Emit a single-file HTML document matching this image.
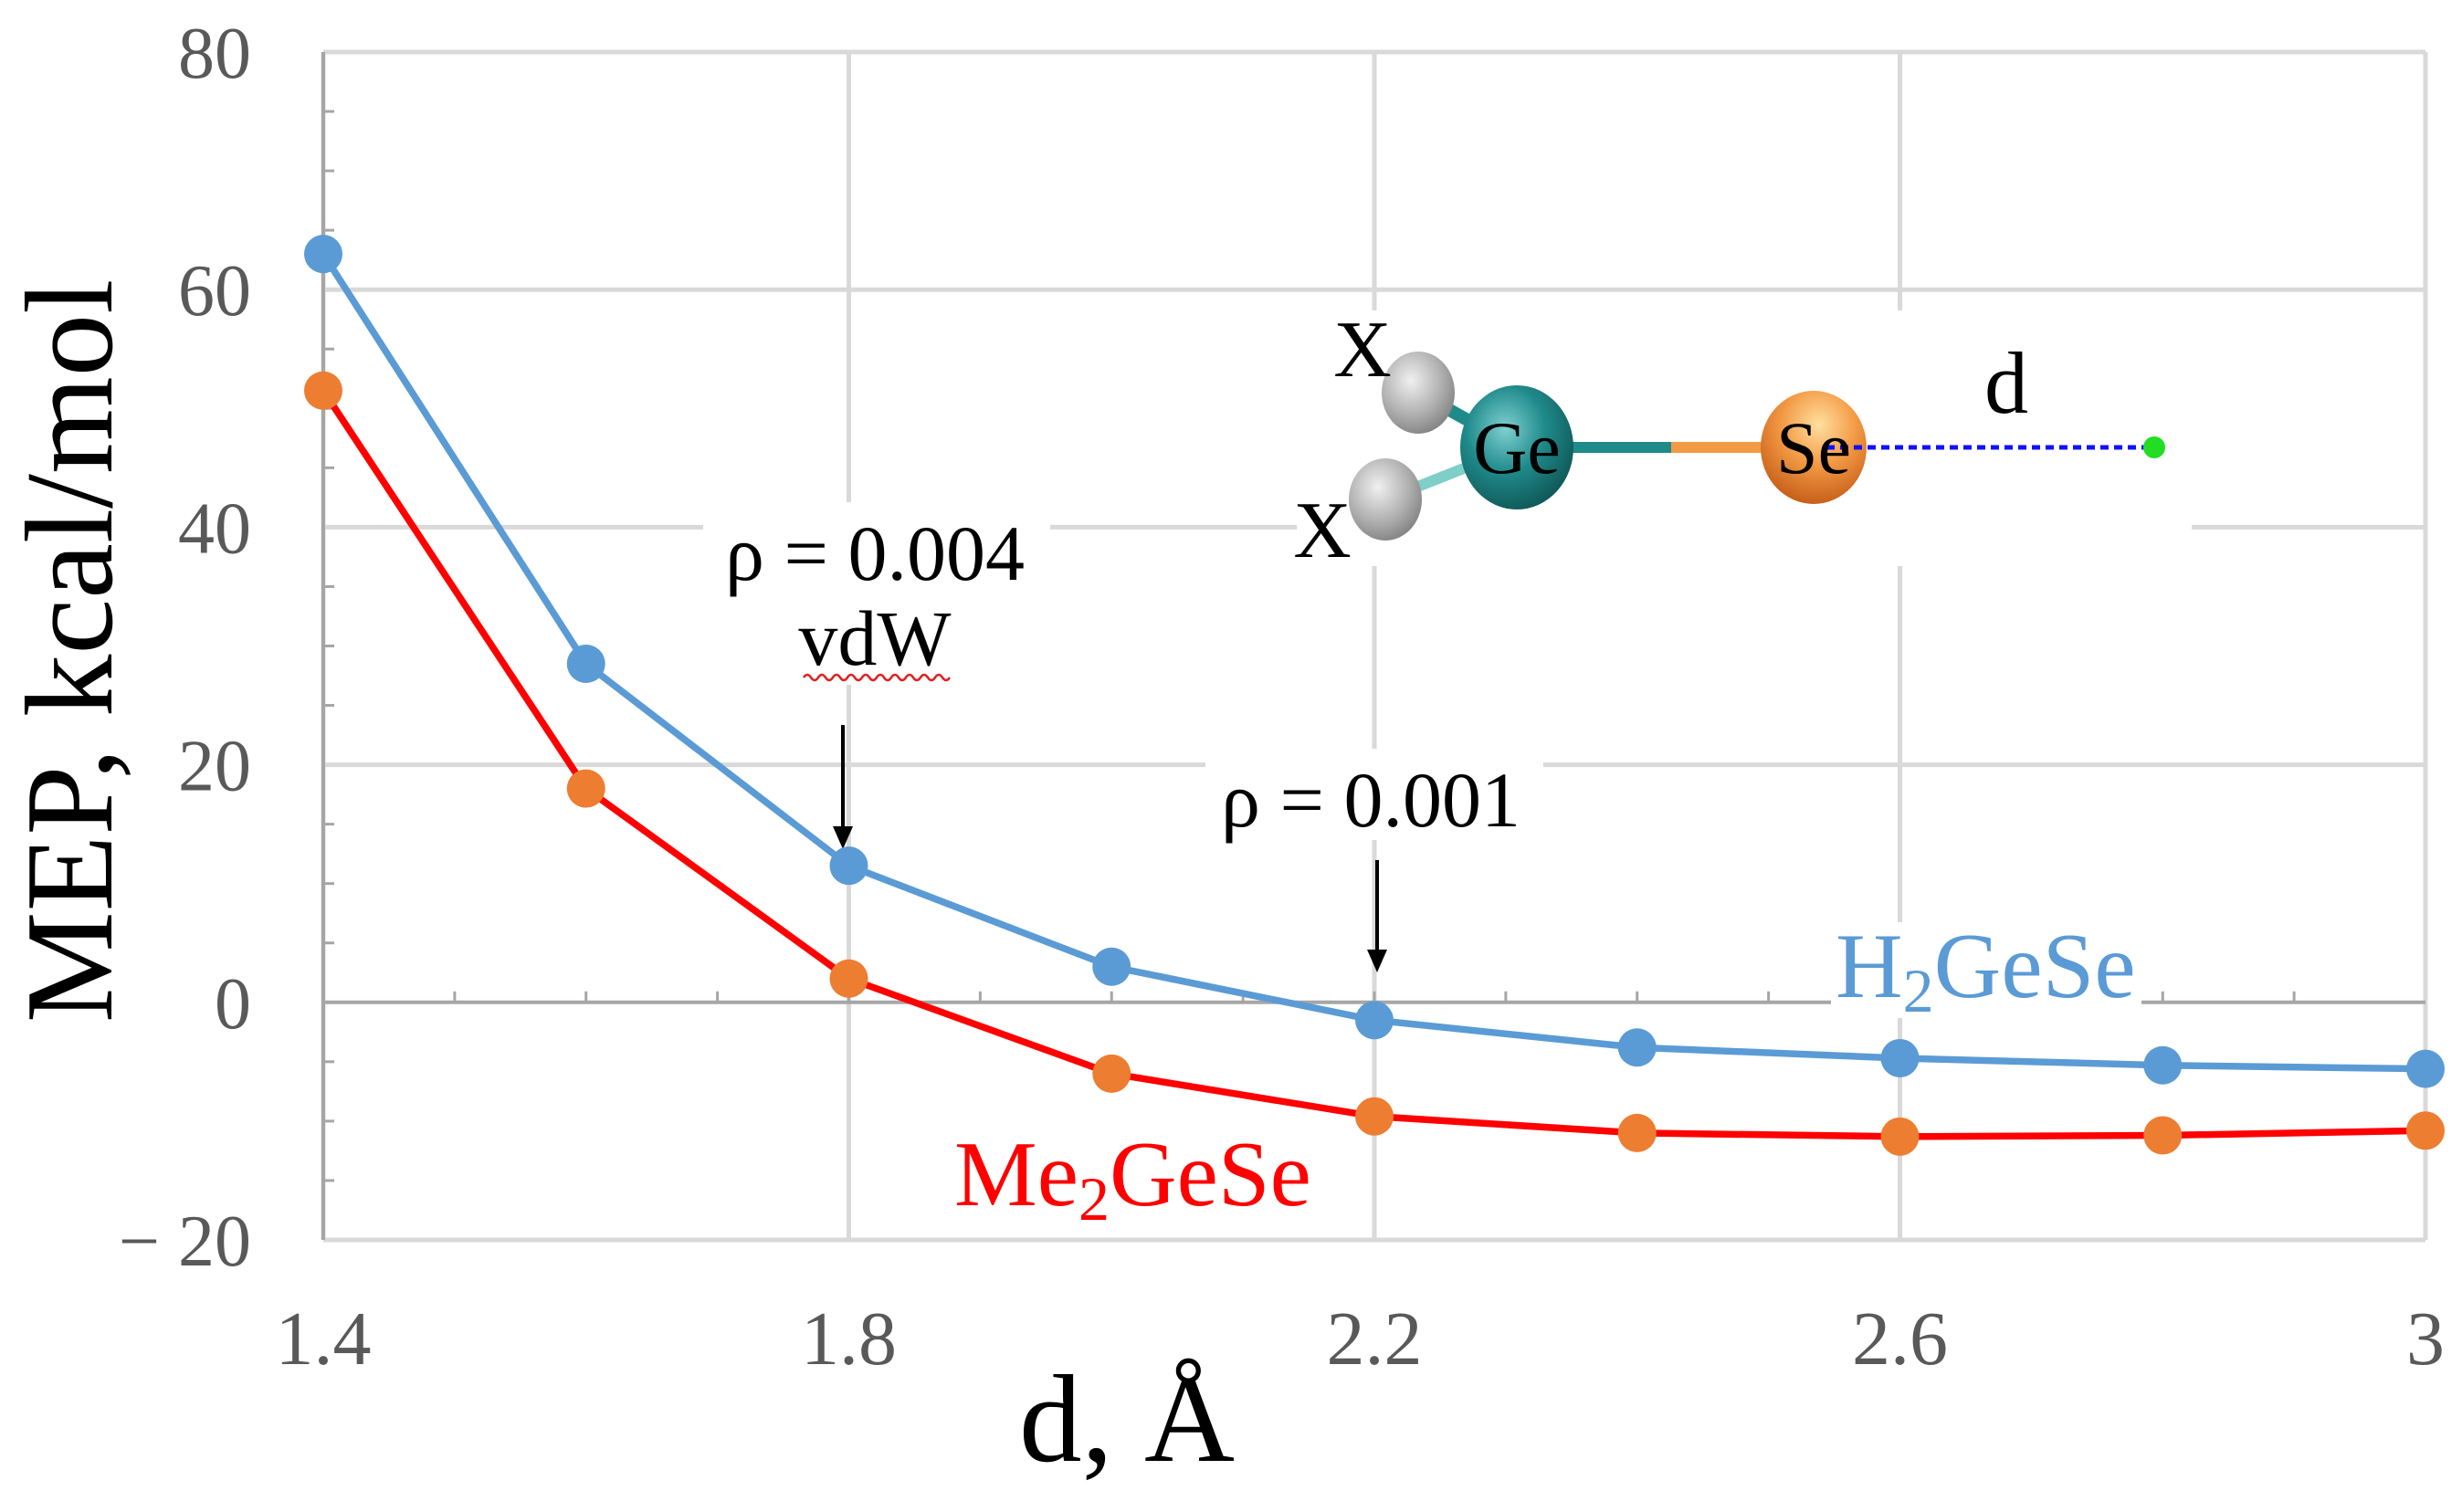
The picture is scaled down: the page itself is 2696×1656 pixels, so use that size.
<!DOCTYPE html>
<html><head><meta charset="utf-8"><style>
html,body{margin:0;padding:0;background:#fff;width:2696px;height:1656px;overflow:hidden}
svg{display:block;font-family:"Liberation Serif",serif}
</style></head><body>
<svg id="chart" width="2696" height="1656" viewBox="0 0 2696 1656" xmlns="http://www.w3.org/2000/svg">
<defs>
<radialGradient id="gGe" cx="0.4" cy="0.35" r="0.7"><stop offset="0" stop-color="#7fd0d0"/><stop offset="0.5" stop-color="#1f8a8a"/><stop offset="1" stop-color="#0f5555"/></radialGradient>
<radialGradient id="gSe" cx="0.55" cy="0.3" r="0.7"><stop offset="0" stop-color="#ffe0a0"/><stop offset="0.5" stop-color="#f39a45"/><stop offset="1" stop-color="#c8601a"/></radialGradient>
<radialGradient id="gX" cx="0.4" cy="0.35" r="0.7"><stop offset="0" stop-color="#f0f0f0"/><stop offset="0.6" stop-color="#b0b0b0"/><stop offset="1" stop-color="#808080"/></radialGradient>
</defs>
<g id="grid"></g>
<g id="axes"></g>
<g id="annotations" font-family="Liberation Serif, serif">
<rect x="770" y="550" width="380" height="200" fill="#fff"/>
<text x="958" y="635" text-anchor="middle" font-size="86">ρ = 0.004</text>
<text x="958" y="728" text-anchor="middle" font-size="86">vdW</text>
<path d="M880 742 q4 -6 8 0 t8 0 t8 0 t8 0 t8 0 t8 0 t8 0 t8 0 t8 0 t8 0 t8 0 t8 0 t8 0 t8 0 t8 0 t8 0 t8 0 t8 0 t8 0 t8 0" stroke="#e02020" stroke-width="2.5" fill="none"/>
<line x1="923" y1="794" x2="923" y2="910" stroke="#000" stroke-width="4"/>
<polygon points="912,905 934,905 923,930" fill="#000"/>
<rect x="1320" y="820" width="370" height="100" fill="#fff"/>
<text x="1501" y="905" text-anchor="middle" font-size="86">ρ = 0.001</text>
<line x1="1508" y1="942" x2="1508" y2="1045" stroke="#000" stroke-width="4"/>
<polygon points="1497,1040 1519,1040 1508,1065" fill="#000"/>
<rect x="2005" y="1010" width="340" height="105" fill="#fff"/>
<text x="2010" y="1092" font-size="102" fill="#5b9bd5">H<tspan font-size="68" dy="16">2</tspan><tspan dy="-16">GeSe</tspan></text>
<rect x="1040" y="1240" width="400" height="105" fill="#fff"/>
<text x="1045" y="1320" font-size="102" fill="#ff0000">Me<tspan font-size="68" dy="16">2</tspan><tspan dy="-16">GeSe</tspan></text>
<g>
<rect x="1420" y="340" width="980" height="280" fill="#fff"/>
<line x1="1553" y1="430" x2="1661" y2="490" stroke="#1f8a8a" stroke-width="14"/>
<line x1="1517" y1="547" x2="1661" y2="490" stroke="#7fcfc8" stroke-width="12"/>
<ellipse cx="1553" cy="430" rx="40" ry="45" fill="url(#gX)"/>
<ellipse cx="1517" cy="547" rx="40" ry="45" fill="url(#gX)"/>
<line x1="1661" y1="490" x2="1830" y2="490" stroke="#1f8a8a" stroke-width="12"/>
<line x1="1830" y1="490" x2="1986" y2="490" stroke="#f39a45" stroke-width="12"/>
<ellipse cx="1661" cy="490" rx="62" ry="68" fill="url(#gGe)"/>
<ellipse cx="1986" cy="490" rx="58" ry="62" fill="url(#gSe)"/>
<line x1="2000" y1="490" x2="2359" y2="490" stroke="#1010ff" stroke-width="5" stroke-dasharray="9,6"/>
<circle cx="2359" cy="490" r="12" fill="#22dd22"/>
<text x="1661" y="518" text-anchor="middle" font-size="82">Ge</text>
<text x="1986" y="518" text-anchor="middle" font-size="82">Se</text>
<text x="1492" y="412" text-anchor="middle" font-size="88">X</text>
<text x="1448" y="610" text-anchor="middle" font-size="88">X</text>
<text x="2197" y="452" text-anchor="middle" font-size="96">d</text>
</g>
</g>
<g id="series"></g>
</svg>
<script>
const xCats = [1.4, 1.6, 1.8, 2.0, 2.2, 2.4, 2.6, 2.8, 3.0];
const h2gese = [63, 28.5, 11.5, 3, -1.5, -3.8, -4.7, -5.3, -5.6];
const me2gese = [51.5, 18, 2, -6, -9.6, -11, -11.3, -11.2, -10.8];
const xTicks = [1.4, 1.8, 2.2, 2.6, 3];
const xTickLabels = ["1.4", "1.8", "2.2", "2.6", "3"];
const yTicks = [80, 60, 40, 20, 0, -20];
const yTickLabels = ["80", "60", "40", "20", "0", "\u2212 20"];

const NS = "http://www.w3.org/2000/svg";
const X0 = 354, X1 = 2656, Y80 = 57, Ym20 = 1358;
function sx(v){ return X0 + (v - 1.4) / 1.6 * (X1 - X0); }
function sy(v){ return Y80 + (80 - v) / 100 * (Ym20 - Y80); }
function mk(tag, attrs, parent, text){
  const e = document.createElementNS(NS, tag);
  for (const k in attrs) e.setAttribute(k, attrs[k]);
  if (text !== undefined) e.textContent = text;
  parent.appendChild(e); return e;
}
const grid = document.getElementById('grid');
const axes = document.getElementById('axes');
const series = document.getElementById('series');

yTicks.forEach((t, i) => {
  if (t === 0) return;
  const l = mk('line', {x1: X0, x2: X1, y1: sy(t), y2: sy(t), stroke: '#d9d9d9', 'stroke-width': 5}, grid);
  
  
});
xTicks.forEach(t => {
  const l = mk('line', {x1: sx(t), x2: sx(t), y1: Y80, y2: Ym20, stroke: '#d9d9d9', 'stroke-width': 5}, grid);
  
  
});
const ya = mk('line', {x1: X0, x2: X0, y1: Y80, y2: Ym20, stroke: '#a6a6a6', 'stroke-width': 4}, axes);


for (let v = -15; v < 80; v += 5) {
  if (v % 20 === 0) continue;
  const t = mk('line', {x1: X0, x2: X0 + 12, y1: sy(v), y2: sy(v), stroke: '#a6a6a6', 'stroke-width': 3}, axes);
  
  
}
const zl = mk('line', {x1: X0, x2: X1, y1: sy(0), y2: sy(0), stroke: '#a6a6a6', 'stroke-width': 4}, axes);


for (let v = 1.5; v < 3.0; v += 0.1) {
  const t = mk('line', {x1: sx(v), x2: sx(v), y1: sy(0) - 12, y2: sy(0), stroke: '#a6a6a6', 'stroke-width': 3}, axes);
  
  
}
yTicks.forEach((t, i) => {
  const e = mk('text', {x: 275, y: sy(t) + 28, 'text-anchor': 'end', 'font-size': 80, fill: '#595959'}, axes, yTickLabels[i]);
  
  
});
xTicks.forEach((t, i) => {
  const e = mk('text', {x: sx(t), y: 1494, 'text-anchor': 'middle', 'font-size': 84, fill: '#595959'}, axes, xTickLabels[i]);
  
  
});
const yt = mk('text', {x: 0, y: 0, transform: 'translate(122,713) rotate(-90)', 'text-anchor': 'middle', 'font-size': 137, fill: '#000'}, axes, 'MEP, kcal/mol');


const xt = mk('text', {x: 1234, y: 1600, 'text-anchor': 'middle', 'font-size': 137, fill: '#000'}, axes, 'd, \u00c5');



function drawSeries(vals, lineColor, dotColor, name){
  const pts = vals.map((v, i) => sx(xCats[i]) + ',' + sy(v)).join(' ');
  const pl = mk('polyline', {points: pts, fill: 'none', stroke: lineColor, 'stroke-width': 7.5, 'stroke-linejoin': 'round'}, series);
  
  
  vals.forEach((v, i) => {
    const c = mk('circle', {cx: sx(xCats[i]), cy: sy(v), r: 21, fill: dotColor}, series);
    
    
  });
}
drawSeries(me2gese, '#ff0000', '#ed7d31', 'me2gese');
drawSeries(h2gese, '#5b9bd5', '#5b9bd5', 'h2gese');
</script>
</body></html>
